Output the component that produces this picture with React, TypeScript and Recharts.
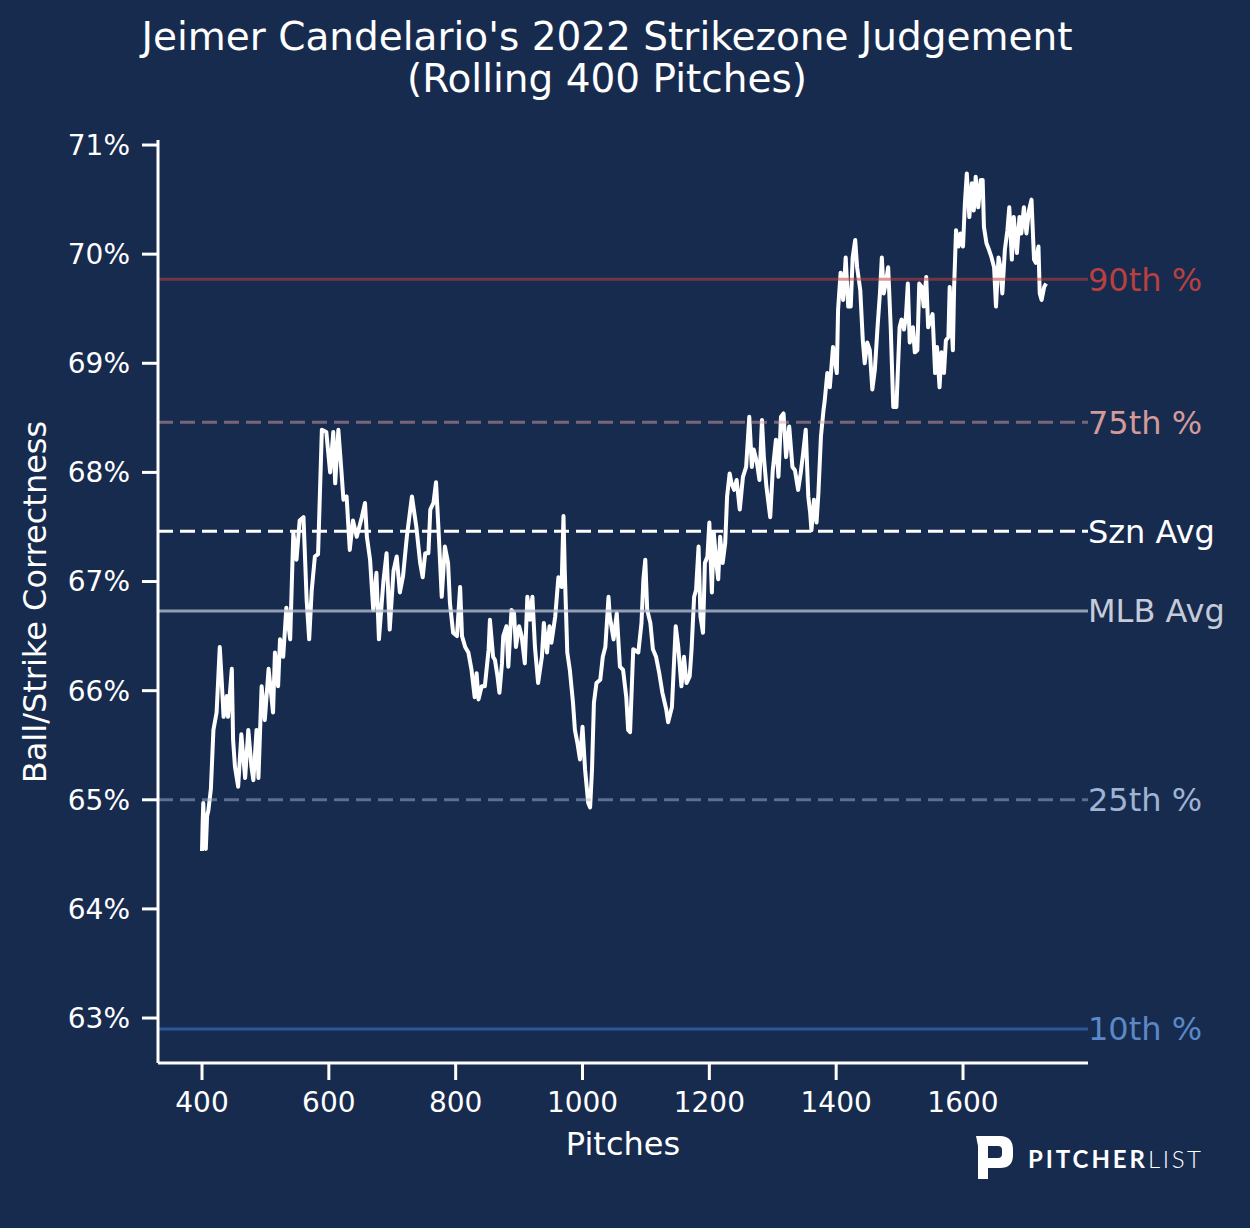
import React from 'react';
import { LineChart, Line, XAxis, YAxis, ReferenceLine } from 'recharts';

// page has an 8px body margin by default; the figure fills the window edge to edge
if (typeof document !== 'undefined') {
  document.body.style.margin = '0';
  document.body.style.background = '#172b4f';
}

const FONT = '"DejaVu Sans", Verdana, sans-serif';
const BG = '#172b4f';

// rolling 400-pitch ball/strike correctness (%)
const pitches = [
  400, 401, 402, 404, 406, 408, 410, 414, 418, 423, 428, 431, 434, 439, 441, 447, 449, 452, 457, 462,
  468, 473, 478, 481, 486, 489, 494, 499, 505, 512, 515, 520, 523, 528, 533, 539, 544, 549, 554, 560,
  565, 569, 573, 578, 583, 589, 596, 602, 607, 610, 615, 620, 623, 628, 633, 638, 644, 652, 657, 660,
  665, 670, 675, 679, 686, 691, 696, 702, 707, 712, 717, 723, 731, 738, 744, 748, 752, 757, 760, 765,
  769, 773, 778, 783, 788, 791, 796, 802, 807, 810, 815, 820, 825, 830, 833, 836, 841, 846, 852, 854,
  859, 862, 866, 869, 873, 875, 880, 883, 888, 892, 895, 900, 904, 909, 913, 917, 921, 925, 930, 936,
  939, 944, 948, 951, 957, 962, 967, 970, 972, 976, 980, 985, 988, 992, 996, 1000, 1004, 1009, 1012, 1015,
  1018, 1022, 1028, 1032, 1036, 1041, 1043, 1049, 1054, 1059, 1064, 1069, 1072, 1075, 1080, 1088, 1093, 1096, 1099, 1102,
  1107, 1111, 1116, 1121, 1126, 1132, 1135, 1141, 1144, 1147, 1151, 1156, 1160, 1164, 1169, 1172, 1176, 1179, 1183, 1186,
  1190, 1193, 1197, 1200, 1204, 1207, 1211, 1214, 1217, 1221, 1225, 1228, 1232, 1235, 1239, 1243, 1248, 1253, 1258, 1263,
  1267, 1270, 1275, 1279, 1283, 1286, 1290, 1296, 1300, 1305, 1309, 1313, 1317, 1321, 1326, 1331, 1335, 1340, 1344, 1348,
  1352, 1356, 1359, 1361, 1365, 1369, 1372, 1376, 1380, 1382, 1386, 1390, 1395, 1401, 1403, 1407, 1411, 1415, 1419, 1423,
  1426, 1430, 1433, 1438, 1442, 1445, 1449, 1453, 1457, 1461, 1465, 1469, 1472, 1475, 1479, 1482, 1486, 1490, 1495, 1500,
  1503, 1507, 1510, 1513, 1516, 1521, 1524, 1528, 1531, 1535, 1538, 1542, 1545, 1549, 1552, 1556, 1559, 1563, 1566, 1570,
  1573, 1577, 1579, 1584, 1586, 1589, 1593, 1596, 1600, 1603, 1606, 1610, 1614, 1617, 1620, 1624, 1628, 1631, 1633, 1637,
  1641, 1645, 1649, 1652, 1656, 1659, 1662, 1666, 1670, 1673, 1677, 1680, 1685, 1689, 1692, 1696, 1700, 1704, 1708, 1712,
  1715, 1719, 1721, 1724, 1728, 1731,
];

const rates = [
  64.53, 64.79, 64.97, 64.6, 64.55, 64.85, 64.9, 65.1, 65.64, 65.8, 66.4, 66.1, 65.76, 65.95, 65.76, 66.2, 65.55, 65.3, 65.12, 65.6,
  65.2, 65.64, 65.3, 65.18, 65.64, 65.2, 66.04, 65.73, 66.2, 65.8, 66.35, 66.04, 66.47, 66.31, 66.76, 66.47, 67.45, 67.2, 67.56, 67.59,
  66.83, 66.47, 66.92, 67.23, 67.25, 68.39, 68.37, 68.0, 68.37, 67.9, 68.39, 68.0, 67.75, 67.78, 67.29, 67.56, 67.41, 67.59, 67.72, 67.41,
  67.2, 66.74, 67.08, 66.47, 67.0, 67.26, 66.56, 67.1, 67.23, 66.9, 67.05, 67.41, 67.78, 67.5, 67.17, 67.04, 67.26, 67.26, 67.66, 67.72,
  67.91, 67.47, 66.86, 67.32, 67.17, 66.8, 66.53, 66.5, 66.95, 66.5, 66.4, 66.35, 66.19, 65.94, 66.16, 65.92, 66.04, 66.04, 66.38, 66.65,
  66.31, 66.28, 66.13, 65.98, 66.25, 66.5, 66.59, 66.22, 66.74, 66.71, 66.4, 66.59, 66.5, 66.25, 66.86, 66.65, 66.86, 66.4, 66.07, 66.31,
  66.62, 66.35, 66.59, 66.44, 66.68, 67.04, 66.95, 67.6, 67.1, 66.35, 66.19, 65.89, 65.64, 65.52, 65.37, 65.67, 65.28, 64.97, 64.93, 65.28,
  65.89, 66.07, 66.1, 66.31, 66.4, 66.86, 66.68, 66.47, 66.71, 66.22, 66.19, 65.94, 65.64, 65.62, 66.38, 66.35, 66.62, 67.02, 67.2, 66.74,
  66.62, 66.38, 66.31, 66.16, 65.98, 65.83, 65.71, 65.85, 66.22, 66.59, 66.4, 66.04, 66.31, 66.07, 66.13, 66.38, 66.86, 66.92, 67.32, 66.68,
  66.53, 67.17, 67.23, 67.54, 66.9, 67.45, 67.17, 67.02, 67.41, 67.17, 67.35, 67.78, 67.99, 67.9, 67.84, 67.93, 67.66, 67.96, 68.05, 68.51,
  68.05, 68.21, 68.09, 67.93, 68.48, 68.14, 67.87, 67.59, 68.02, 68.3, 67.96, 68.51, 68.54, 68.14, 68.42, 68.05, 68.02, 67.84, 67.99, 68.18,
  68.39, 67.78, 67.63, 67.47, 67.75, 67.54, 67.81, 68.33, 68.57, 68.66, 68.91, 68.78, 69.15, 68.91, 69.49, 69.83, 69.58, 69.97, 69.52, 69.52,
  69.97, 70.13, 69.88, 69.67, 69.21, 69.0, 69.19, 69.12, 68.76, 68.94, 69.31, 69.64, 69.97, 69.64, 69.76, 69.88, 69.33, 68.6, 68.6, 69.33,
  69.4, 69.31, 69.43, 69.73, 69.19, 69.33, 69.1, 69.12, 69.73, 69.7, 69.52, 69.79, 69.33, 69.4, 69.45, 68.91, 69.15, 68.78, 69.1, 68.91,
  69.21, 69.24, 69.7, 69.12, 69.7, 70.22, 70.07, 70.19, 70.07, 70.47, 70.74, 70.34, 70.65, 70.4, 70.71, 70.43, 70.68, 70.68, 70.25, 70.1,
  70.04, 69.97, 69.88, 69.52, 69.97, 69.88, 69.64, 70.04, 70.22, 70.43, 69.95, 70.34, 70.01, 70.34, 70.19, 70.43, 70.19, 70.4, 70.5, 69.95,
  69.92, 70.07, 69.64, 69.58, 69.7, 69.73,
];

const xTicks = [400, 600, 800, 1000, 1200, 1400, 1600];
const yTicks = [63, 64, 65, 66, 67, 68, 69, 70, 71];

// benchmark lines
const refLabels = ['90th %', '75th %', 'Szn Avg', 'MLB Avg', '25th %', '10th %'];
const refValues = [69.77, 68.46, 67.46, 66.73, 65.0, 62.9];
const refLineColors = ['#c0403f', '#d9a0a0', '#ffffff', '#b4bccb', '#9fb3d3', '#2b5899'];
const refLineOpacity = [0.55, 0.5, 1, 0.8, 0.5, 1];
const refTextColors = ['#b8403f', '#d49a9a', '#ffffff', '#c5cbd8', '#9fb3d3', '#5b88c6'];
const refDashed = [false, true, true, false, true, false];

const data = pitches.map((p, i) => ({ pitch: p, rate: rates[i] }));

export default function App() {
  return (
    <div style={{ position: 'relative', width: 1250, height: 1228, background: BG, fontFamily: FONT }}>
      <LineChart
        width={1250}
        height={1228}
        data={data}
        margin={{ top: 140, right: 162, bottom: 0, left: 0 }}
      >
        <XAxis
          type="number"
          dataKey="pitch"
          domain={[330.6, 1797.1]}
          ticks={xTicks}
          allowDataOverflow
          height={165}
          stroke="#ffffff"
          strokeWidth={3}
          tickSize={17}
          tickMargin={12}
          tick={{ fill: '#ffffff', fontSize: 28, fontFamily: FONT }}
        />
        <YAxis
          type="number"
          domain={[62.588, 71.046]}
          ticks={yTicks}
          allowDataOverflow
          width={158}
          stroke="#ffffff"
          strokeWidth={3}
          tickSize={16}
          tickMargin={12}
          tickFormatter={(v) => `${v}%`}
          tick={{ fill: '#ffffff', fontSize: 28, fontFamily: FONT }}
        />
        <Line
          type="linear"
          dataKey="rate"
          stroke="#ffffff"
          strokeWidth={4}
          strokeLinejoin="round"
          dot={false}
          activeDot={false}
          isAnimationActive={false}
        />
        {refValues.map((v, i) => (
          <ReferenceLine
            key={refLabels[i]}
            y={v}
            stroke={refLineColors[i]}
            strokeOpacity={refLineOpacity[i]}
            strokeWidth={3}
            strokeDasharray={refDashed[i] ? '15 7' : undefined}
            label={{
              value: refLabels[i],
              position: 'right',
              offset: 0,
              fill: refTextColors[i],
              fontSize: 32,
              fontFamily: FONT,
            }}
          />
        ))}
      </LineChart>

      <svg
        width={1250}
        height={1228}
        style={{ position: 'absolute', left: 0, top: 0, pointerEvents: 'none' }}
      >
        <text x={607} y={50} textAnchor="middle" fill="#ffffff" fontSize={39} fontFamily={FONT}>
          Jeimer Candelario's 2022 Strikezone Judgement
        </text>
        <text x={607} y={92} textAnchor="middle" fill="#ffffff" fontSize={39} fontFamily={FONT}>
          (Rolling 400 Pitches)
        </text>
        <text x={623} y={1155} textAnchor="middle" fill="#ffffff" fontSize={32} fontFamily={FONT}>
          Pitches
        </text>
        <text
          transform="translate(46, 602) rotate(-90)"
          textAnchor="middle"
          fill="#ffffff"
          fontSize={32}
          fontFamily={FONT}
        >
          Ball/Strike Correctness
        </text>

        {/* PitcherList logo */}
        <path
          d="M976,1136 L1000,1136 Q1013,1136 1013,1150 L1013,1155 Q1013,1168 1000,1168 L988,1168 L988,1179 L978,1179 L978,1146 Z M988,1146 L998,1146 Q1002,1146 1002,1150 L1002,1154 Q1002,1158 998,1158 L988,1158 Z"
          fill="#ffffff"
          fillRule="evenodd"
        />
        <text x={1028} y={1168} fill="#ffffff" fontSize={24} fontWeight={700} fontFamily="Lato, sans-serif"
          textLength={117} lengthAdjust="spacing">
          PITCHER
        </text>
        <text x={1148} y={1168} fill="#ffffff" fontSize={24} fontWeight={300} fontFamily="Lato, sans-serif"
          textLength={53} lengthAdjust="spacing">
          LIST
        </text>
      </svg>
    </div>
  );
}
